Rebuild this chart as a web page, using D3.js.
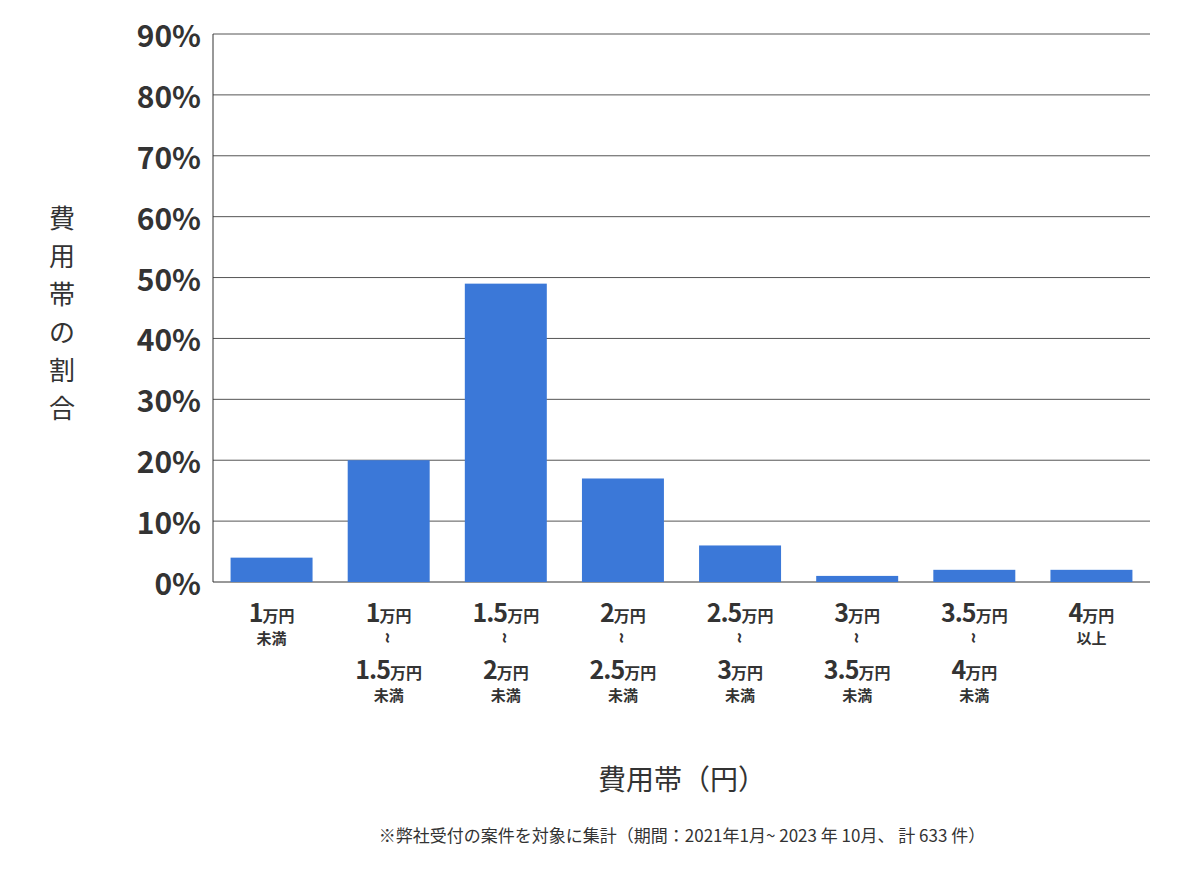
<!DOCTYPE html>
<html>
<head>
<meta charset="utf-8">
<script src="https://cdn.jsdelivr.net/npm/d3@7"></script>
<style>
  body { margin: 0; background: #fff; font-family: "Noto Sans CJK JP", "Noto Sans", sans-serif; }
  text { fill: #333; }
</style>
</head>
<body>
<script>
// category bounds (万円); null = open end
const lowerBounds = [null, '1', '1.5', '2', '2.5', '3', '3.5', '4']
const upperBounds = ['1', '1.5', '2', '2.5', '3', '3.5', '4', null]
const shares = [4, 20, 49, 17, 6, 1, 2, 2]
const yTicks = [0, 10, 20, 30, 40, 50, 60, 70, 80, 90]

const width = 1200, height = 874
const margin = {top: 34, right: 50, bottom: 292, left: 213}
const svg = d3.select('body').append('svg')
  .attr('width', width).attr('height', height)

const x = d3.scaleBand()
  .domain(d3.range(shares.length))
  .range([margin.left, width - margin.right])
  .paddingInner(0.3).paddingOuter(0.15)
const y = d3.scaleLinear().domain([0, 90]).range([height - margin.bottom, margin.top])

// gridlines
svg.append('g').selectAll('line').data(yTicks).join('line')
  .attr('x1', margin.left).attr('x2', width - margin.right)
  .attr('y1', d => y(d)).attr('y2', d => y(d))
  .attr('stroke', d => d === 0 ? '#333' : '#555').attr('stroke-width', 1)
svg.append('line')
  .attr('x1', margin.left).attr('x2', margin.left)
  .attr('y1', y(90)).attr('y2', y(0)).attr('stroke', '#333')

svg.append('g').selectAll('text').data(yTicks).join('text')
  .attr('x', margin.left - 12).attr('y', d => y(d))
  .attr('text-anchor', 'end').attr('dominant-baseline', 'central')
  .attr('font-size', 30).attr('font-weight', 700)
  .text(d => d + '%')

svg.append('g').selectAll('rect').data(shares).join('rect')
  .attr('x', (d, i) => x(i)).attr('width', x.bandwidth())
  .attr('y', d => y(d)).attr('height', d => y(0) - y(d))
  .attr('fill', '#3b78d8')

// x labels
function yen(g, num, yy, cx) {
  const t = g.append('text').attr('x', cx).attr('y', yy).attr('text-anchor', 'middle')
    .attr('font-weight', 700)
  t.append('tspan').attr('font-size', 25).attr('letter-spacing', -1).text(num)
  t.append('tspan').attr('font-size', 16).text('万円')
}
function small(g, txt, yy, cx) {
  g.append('text').attr('x', cx).attr('y', yy).attr('text-anchor', 'middle')
    .attr('font-size', 15).attr('font-weight', 700).text(txt)
}
lowerBounds.forEach((lo, i) => {
  const hi = upperBounds[i]
  const cx = x(i) + x.bandwidth() / 2
  const g = svg.append('g')
  if (lo === null) { yen(g, hi, 622, cx); small(g, '未満', 644, cx); return }
  if (hi === null) { yen(g, lo, 622, cx); small(g, '以上', 644, cx); return }
  yen(g, lo, 622, cx)
  g.append('text').attr('transform', `translate(${cx},638) rotate(90)`)
    .attr('text-anchor', 'middle').attr('dominant-baseline', 'central')
    .attr('font-size', 20).attr('font-weight', 700).text('~')
  yen(g, hi, 679, cx)
  small(g, '未満', 701, cx)
})

// y title vertical
const yTitle = ['費', '用', '帯', 'の', '割', '合']
svg.append('g').selectAll('text').data(yTitle).join('text')
  .attr('x', 62).attr('y', (d, i) => 228 + i * 38)
  .attr('text-anchor', 'middle').attr('font-size', 26)
  .text(d => d)

svg.append('text').attr('x', 682).attr('y', 790).attr('text-anchor', 'middle')
  .attr('font-size', 28).text('費用帯（円）')
svg.append('text').attr('x', 682).attr('y', 842).attr('text-anchor', 'middle')
  .attr('font-size', 17).text('※弊社受付の案件を対象に集計（期間：2021年1月~ 2023 年 10月、 計 633 件）')
</script>
</body>
</html>
